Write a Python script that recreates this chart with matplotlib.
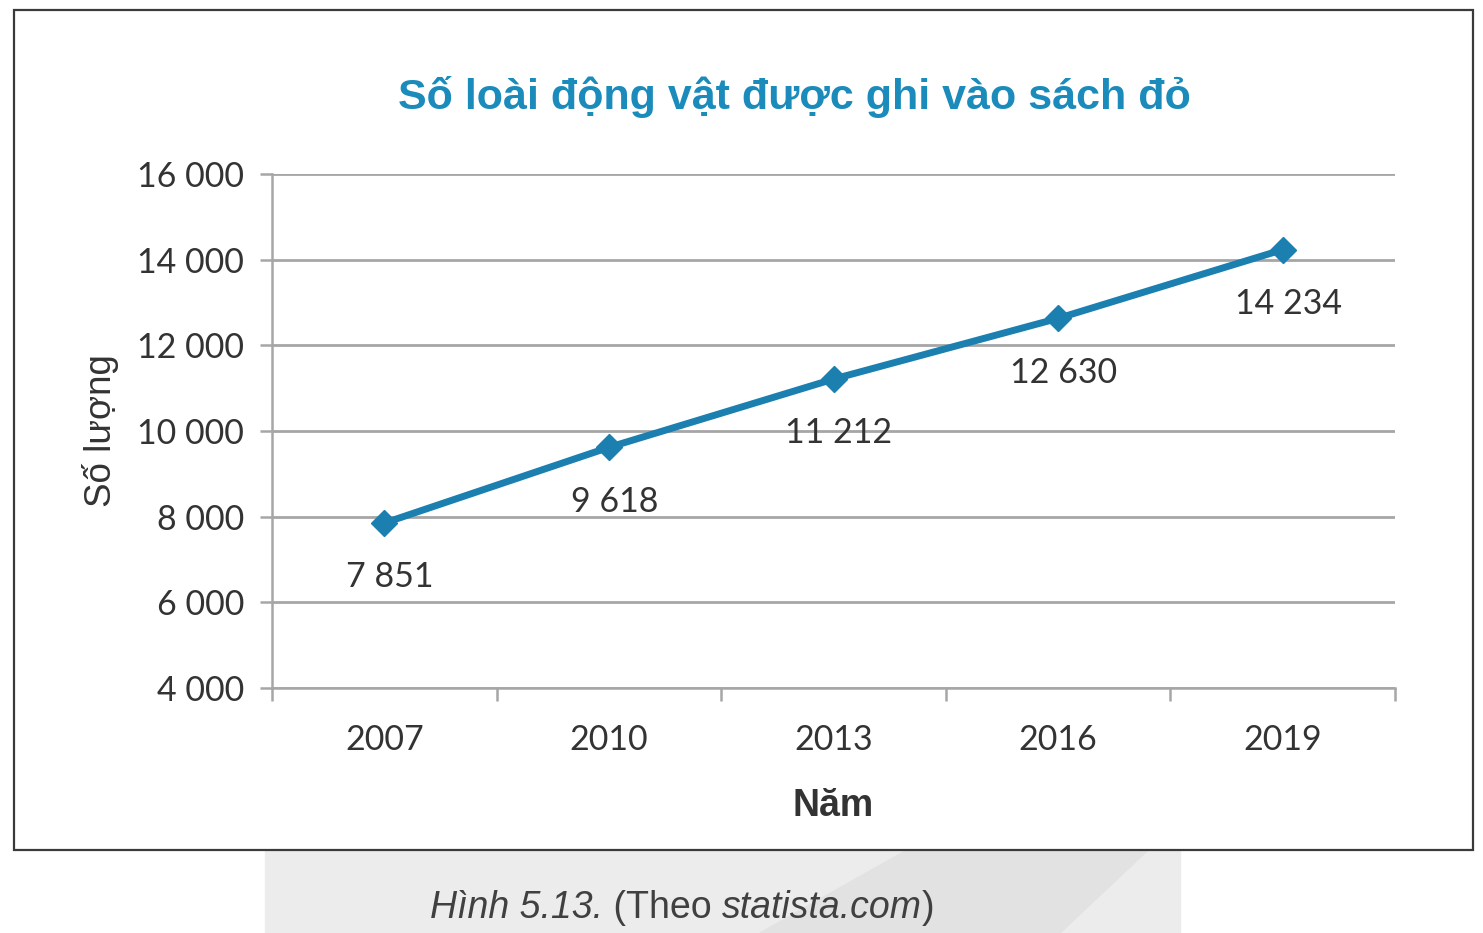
import matplotlib.pyplot as plt
from matplotlib.patches import Rectangle, Polygon

years = ['2007', '2010', '2013', '2016', '2019']
counts = [7851, 9618, 11212, 12630, 14234]
count_labels = ['7 851', '9 618', '11 212', '12 630', '14 234']
y_ticks = [4000, 6000, 8000, 10000, 12000, 14000, 16000]
y_tick_labels = ['4 000', '6 000', '8 000', '10 000', '12 000', '14 000', '16 000']

line_color = '#1b7fb0'
grid_color = '#a6a6a6'
text_color = '#333333'

fig = plt.figure(figsize=(14.83, 9.33), dpi=100)

# watermark behind the caption
wm = Rectangle((265 / 1483, 0), (1180 - 265) / 1483, 113 / 933,
               transform=fig.transFigure, color='#ececec', zorder=0)
fig.patches.append(wm)
wm2 = Polygon([(760 / 1483, 0), (1060 / 1483, 0), (1180 / 1483, 113 / 933),
               (960 / 1483, 113 / 933)],
              closed=True, transform=fig.transFigure, color='#e2e2e2', zorder=0)
fig.patches.append(wm2)

# chart frame
frame = Rectangle((14 / 1483, 1 - 850 / 933), (1473 - 14) / 1483, 840 / 933,
                  transform=fig.transFigure, facecolor='white',
                  edgecolor='#3a3a3a', linewidth=1.6, zorder=0.5)
fig.patches.append(frame)

ax = fig.add_axes([272 / 1483, 1 - 688 / 933, (1395 - 272) / 1483, (688 - 174) / 933])
ax.set_zorder(2)
ax.set_facecolor('none')
x = list(range(len(years)))
ax.plot(x, counts, color=line_color, linewidth=5, marker='D', markersize=13,
        zorder=3, clip_on=False)
for xi, yi, lab in zip(x, counts, count_labels):
    ax.annotate(lab, (xi, yi), xytext=(4, -39), textcoords='offset points',
                ha='center', va='center', fontsize=24.5, color=text_color,
                family='Lato')

ax.set_xlim(-0.5, len(years) - 0.5)
ax.set_ylim(4000, 16000)
ax.set_yticks(y_ticks)
ax.set_yticklabels(y_tick_labels, fontsize=24.5, color=text_color, family='Lato')
ax.set_xticks([i - 0.5 for i in range(len(years) + 1)])
ax.set_xticklabels([])
ax.set_xticks(x, minor=True)
ax.set_xticklabels(years, minor=True, fontsize=24.5, color=text_color, family='Lato')
ax.tick_params(axis='x', which='major', length=9, width=1.8, color=grid_color)
ax.tick_params(axis='x', which='minor', length=0, pad=26)
ax.tick_params(axis='y', length=9, width=1.8, color=grid_color, pad=11)
ax.yaxis.grid(True, color=grid_color, linewidth=2)
ax.set_axisbelow(True)
for side in ['top', 'right']:
    ax.spines[side].set_visible(False)
for side in ['left', 'bottom']:
    ax.spines[side].set_color(grid_color)
    ax.spines[side].set_linewidth(1.8)

ax.set_ylabel('Số lượng', fontsize=26.5, color=text_color, family='Liberation Sans',
              labelpad=13)
ax.set_xlabel('Năm', fontsize=27, color=text_color, fontweight='bold',
              family='Liberation Sans', labelpad=23)

fig.text(794 / 1483, 1 - 97 / 933, 'Số loài động vật được ghi vào sách đỏ',
         ha='center', va='center', fontsize=31, fontweight='bold',
         color='#1a8bbb', family='Liberation Sans')

# caption, pieces laid out one after another
cap_y = 1 - 908 / 933
pieces = [('Hình 5.13.', 'italic'), (' (Theo ', 'normal'),
          ('statista.com', 'italic'), (')', 'normal')]
renderer = fig.canvas.get_renderer()
cx = 430
for s, st in pieces:
    t = fig.text(cx / 1483, cap_y, s, ha='left', va='center', fontsize=27,
                 style=st, color='#404040', family='Liberation Sans')
    cx += t.get_window_extent(renderer).width

fig.savefig('out.png', dpi=100)
